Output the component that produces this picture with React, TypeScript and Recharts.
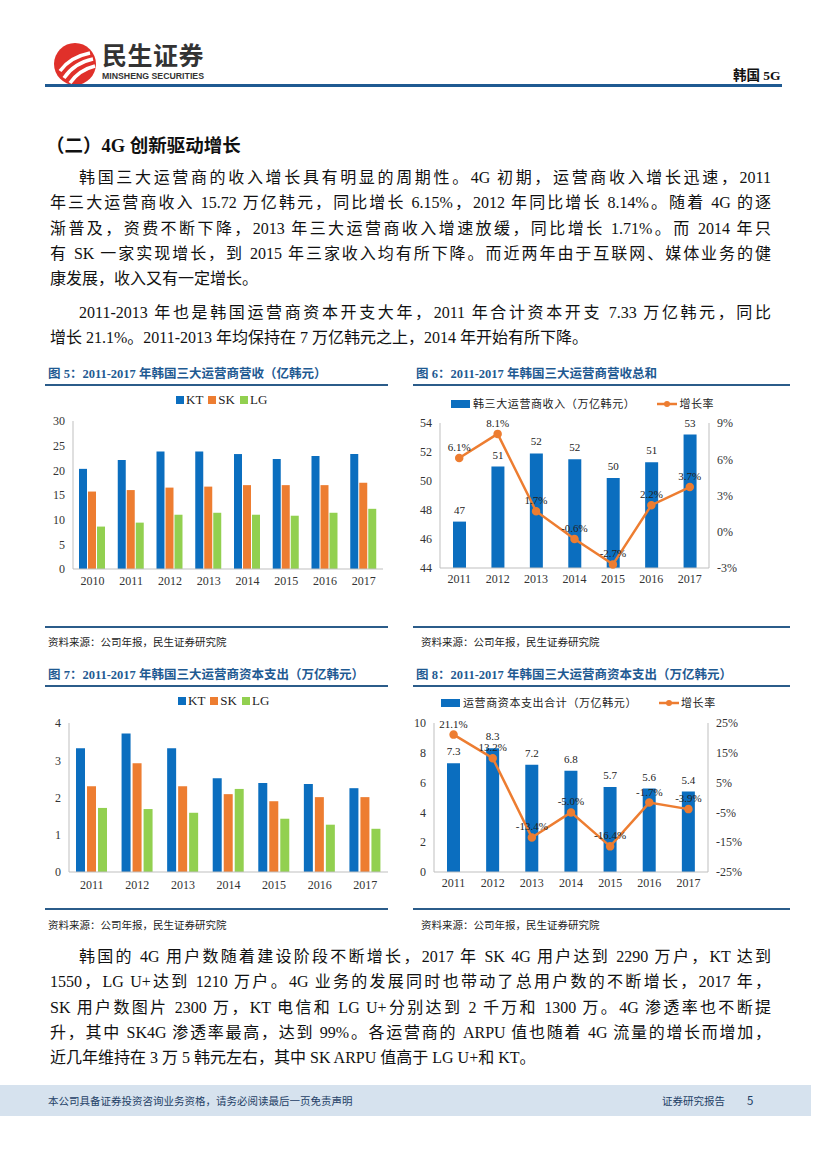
import { ComposedChart, Bar, Line, XAxis, YAxis, LabelList } from 'recharts';

// chart 5: revenue by operator
const years5 = ['2010', '2011', '2012', '2013', '2014', '2015', '2016', '2017'];
const kt5 = [20.3, 22.1, 23.8, 23.8, 23.3, 22.3, 22.9, 23.3];
const sk5 = [15.7, 16.0, 16.5, 16.7, 17.0, 17.0, 17.0, 17.5];
const lg5 = [8.6, 9.4, 11.0, 11.4, 11.0, 10.8, 11.4, 12.2];
const ticks5 = [0, 5, 10, 15, 20, 25, 30];

// chart 6: total revenue + growth
const years = ['2011', '2012', '2013', '2014', '2015', '2016', '2017'];
const revenue6 = [47.2, 51.0, 51.9, 51.5, 50.2, 51.3, 53.2];
const growth6 = [6.1, 8.1, 1.7, -0.6, -2.7, 2.2, 3.7];
const ticks6L = [44, 46, 48, 50, 52, 54];
const ticks6R = [-3, 0, 3, 6, 9];

// chart 7: capex by operator
const kt7 = [3.32, 3.72, 3.32, 2.52, 2.39, 2.36, 2.25];
const sk7 = [2.3, 2.92, 2.3, 2.09, 1.9, 2.01, 2.01];
const lg7 = [1.72, 1.69, 1.59, 2.23, 1.43, 1.27, 1.16];
const ticks7 = [0, 1, 2, 3, 4];

// chart 8: total capex + growth
const capex8 = [7.3, 8.3, 7.2, 6.8, 5.7, 5.6, 5.4];
const growth8 = [21.1, 13.2, -13.4, -5.0, -16.4, -1.7, -3.9];
const ticks8L = [0, 2, 4, 6, 8, 10];
const ticks8R = [-25, -15, -5, 5, 15, 25];

const operators = ['KT', 'SK', 'LG'];
const BLUE = '#0B6EBF';
const ORANGE = '#ED7D31';
const GREEN = '#92D050';
const opColors = [BLUE, ORANGE, GREEN];
const NAVY = '#1F5A92';

const SERIF = '"Liberation Serif", "Noto Sans CJK SC", serif';
const SANS = '"Noto Sans CJK SC", "Noto Sans", sans-serif';

const data5 = years5.map((y, i) => ({ year: y, KT: kt5[i], SK: sk5[i], LG: lg5[i] }));
const data6 = years.map((y, i) => ({ year: y, rev: revenue6[i], g: growth6[i] }));
const data7 = years.map((y, i) => ({ year: y, KT: kt7[i], SK: sk7[i], LG: lg7[i] }));
const data8 = years.map((y, i) => ({ year: y, capex: capex8[i], g: growth8[i] }));

const tickStyle = { fontSize: 12, fill: '#333', fontFamily: SERIF };
const axisLine = { stroke: '#BFBFBF' };

const para1 = [
  '韩国三大运营商的收入增长具有明显的周期性。4G 初期，运营商收入增长迅速，2011',
  '年三大运营商收入 15.72 万亿韩元，同比增长 6.15%，2012 年同比增长 8.14%。随着 4G 的逐',
  '渐普及，资费不断下降，2013 年三大运营商收入增速放缓，同比增长 1.71%。而 2014 年只',
  '有 SK 一家实现增长，到 2015 年三家收入均有所下降。而近两年由于互联网、媒体业务的健',
  '康发展，收入又有一定增长。',
];
const para2 = [
  '2011-2013 年也是韩国运营商资本开支大年，2011 年合计资本开支 7.33 万亿韩元，同比',
  '增长 21.1%。2011-2013 年均保持在 7 万亿韩元之上，2014 年开始有所下降。',
];
const para3 = [
  '韩国的 4G 用户数随着建设阶段不断增长，2017 年 SK 4G 用户达到 2290 万户，KT 达到',
  '1550，LG U+达到 1210 万户。4G 业务的发展同时也带动了总用户数的不断增长，2017 年，',
  'SK 用户数图片 2300 万，KT 电信和 LG U+分别达到 2 千万和 1300 万。4G 渗透率也不断提',
  '升，其中 SK4G 渗透率最高，达到 99%。各运营商的 ARPU 值也随着 4G 流量的增长而增加，',
  '近几年维持在 3 万 5 韩元左右，其中 SK ARPU 值高于 LG U+和 KT。',
];

function Paragraph({ lines, top }: { lines: string[]; top: number }) {
  return (
    <div style={{ position: 'absolute', left: 50, top, width: 721, fontFamily: SERIF, fontSize: 16, color: '#111' }}>
      {lines.map((l, i) => (
        <div
          key={i}
          style={{
            height: 25.3,
            lineHeight: '25.3px',
            whiteSpace: 'nowrap',
            paddingLeft: i === 0 ? 29 : 0,
            textAlign: 'justify',
            textAlignLast: i === lines.length - 1 ? 'left' : 'justify',
            overflow: 'hidden',
          }}
        >
          {l}
        </div>
      ))}
    </div>
  );
}

function FigTitle({ text, left, top, width }: { text: string; left: number; top: number; width: number }) {
  return (
    <div style={{ position: 'absolute', left, top, width }}>
      <div style={{ fontFamily: SERIF, fontWeight: 'bold', fontSize: 12.5, color: NAVY, paddingLeft: 3, lineHeight: '16px' }}>{text}</div>
      <div style={{ height: 2, background: '#2B5C8A', marginTop: 2 }} />
    </div>
  );
}

function Source({ left, top }: { left: number; top: number }) {
  return (
    <div style={{ position: 'absolute', left, top, fontFamily: SERIF, fontSize: 10.5, color: '#222' }}>
      资料来源：公司年报，民生证券研究院
    </div>
  );
}

function OpLegend({ left, top }: { left: number; top: number }) {
  return (
    <div style={{ position: 'absolute', left, top, display: 'flex', fontFamily: SERIF, fontSize: 13, color: '#222', lineHeight: '14px' }}>
      {operators.map((o, i) => (
        <div key={o} style={{ display: 'flex', alignItems: 'center', marginRight: 5 }}>
          <span style={{ width: 8, height: 8, background: opColors[i], display: 'inline-block', marginRight: 2 }} />
          {o}
        </div>
      ))}
    </div>
  );
}

function ComboLegend({ left, top, barName, gap }: { left: number; top: number; barName: string; gap: number }) {
  return (
    <div style={{ position: 'absolute', left, top, display: 'flex', alignItems: 'center', fontFamily: SERIF, fontSize: 11, color: '#222', lineHeight: '12px' }}>
      <span style={{ width: 19, height: 8, background: BLUE, display: 'inline-block', marginRight: 3 }} />
      <span style={{ letterSpacing: 0.6 }}>{barName}</span>
      <svg width={20} height={10} style={{ marginLeft: gap, marginRight: 2 }}>
        <line x1={0} y1={5} x2={20} y2={5} stroke={ORANGE} strokeWidth={2.5} />
        <circle cx={10} cy={5} r={3} fill={ORANGE} />
      </svg>
      <span style={{ letterSpacing: 0.6 }}>增长率</span>
    </div>
  );
}

const pct = (v: any) => `${v}%`;
const pct1 = (v: any) => `${Number(v).toFixed(1)}%`;
const lblStyle = { fontSize: 11, fill: '#222', fontFamily: SERIF };

function Chart5() {
  return (
    <ComposedChart width={345} height={210} data={data5} margin={{ top: 31, right: 7, bottom: 11, left: 0 }} barGap={1}>
      <XAxis dataKey="year" height={20} tick={tickStyle} axisLine={axisLine} tickLine={false} tickMargin={1} />
      <YAxis domain={[0, 30]} ticks={ticks5} width={28} tick={tickStyle} axisLine={axisLine} tickLine={false} interval={0} />
      {operators.map((o, i) => (
        <Bar key={o} dataKey={o} fill={opColors[i]} barSize={8} isAnimationActive={false} />
      ))}
    </ComposedChart>
  );
}

function Chart6() {
  return (
    <ComposedChart width={377} height={210} data={data6} margin={{ top: 33, right: 51, bottom: 12, left: 0 }}>
      <XAxis dataKey="year" height={20} tick={tickStyle} axisLine={axisLine} tickLine={false} tickMargin={0} />
      <YAxis yAxisId="l" domain={[44, 54]} ticks={ticks6L} width={27} tick={tickStyle} axisLine={axisLine} tickLine={false} interval={0} />
      <YAxis yAxisId="r" orientation="right" domain={[-3, 9]} ticks={ticks6R} width={30} tick={tickStyle} tickFormatter={pct} axisLine={axisLine} tickLine={false} interval={0} />
      <Bar yAxisId="l" dataKey="rev" fill={BLUE} barSize={13} isAnimationActive={false}>
        <LabelList dataKey="rev" position="top" offset={8} formatter={(v: any) => Math.round(Number(v))} style={lblStyle} />
      </Bar>
      <Line yAxisId="r" dataKey="g" stroke={ORANGE} strokeWidth={2.5} dot={{ r: 3, fill: ORANGE, stroke: ORANGE }} isAnimationActive={false}>
        <LabelList dataKey="g" position="top" offset={7} formatter={pct1} style={lblStyle} />
      </Line>
    </ComposedChart>
  );
}

function Chart7() {
  return (
    <ComposedChart width={345} height={210} data={data7} margin={{ top: 33, right: 2, bottom: 8, left: 0 }} barGap={2}>
      <XAxis dataKey="year" height={20} tick={tickStyle} axisLine={axisLine} tickLine={false} tickMargin={2} />
      <YAxis domain={[0, 4]} ticks={ticks7} width={24} tick={tickStyle} axisLine={axisLine} tickLine={false} interval={0} />
      {operators.map((o, i) => (
        <Bar key={o} dataKey={o} fill={opColors[i]} barSize={9} isAnimationActive={false} />
      ))}
    </ComposedChart>
  );
}

function Chart8() {
  return (
    <ComposedChart width={377} height={210} data={data8} margin={{ top: 33, right: 50, bottom: 8, left: 0 }}>
      <XAxis dataKey="year" height={20} tick={tickStyle} axisLine={axisLine} tickLine={false} tickMargin={0} />
      <YAxis yAxisId="l" domain={[0, 10]} ticks={ticks8L} width={21} tick={tickStyle} axisLine={axisLine} tickLine={false} interval={0} />
      <YAxis yAxisId="r" orientation="right" domain={[-25, 25]} ticks={ticks8R} width={32} tick={tickStyle} tickFormatter={pct} axisLine={axisLine} tickLine={false} interval={0} />
      <Bar yAxisId="l" dataKey="capex" fill={BLUE} barSize={13} isAnimationActive={false}>
        <LabelList dataKey="capex" position="top" offset={8} formatter={(v: any) => Number(v).toFixed(1)} style={lblStyle} />
      </Bar>
      <Line yAxisId="r" dataKey="g" stroke={ORANGE} strokeWidth={2.5} dot={{ r: 3, fill: ORANGE, stroke: ORANGE }} isAnimationActive={false}>
        <LabelList dataKey="g" position="top" offset={7} formatter={pct1} style={lblStyle} />
      </Line>
    </ComposedChart>
  );
}

function Logo() {
  return (
    <div style={{ position: 'absolute', left: 52, top: 38 }}>
      <svg width={48} height={48} style={{ position: 'absolute', left: 0, top: 3 }}>
        <circle cx={23} cy={23} r={21} fill="#E0302A" />
        <path d="M8 30 Q18 16 38 12" stroke="#fff" strokeWidth={3.5} fill="none" />
        <path d="M12 37 Q22 22 41 18" stroke="#fff" strokeWidth={3.5} fill="none" />
        <path d="M18 42 Q27 29 43 25" stroke="#fff" strokeWidth={3.5} fill="none" />
      </svg>
      <div style={{ position: 'absolute', left: 50, top: 0, fontFamily: SANS, fontWeight: 'bold', fontSize: 25, color: '#333', whiteSpace: 'nowrap', lineHeight: '32px', letterSpacing: 0.5 }}>
        民生证券
      </div>
      <div style={{ position: 'absolute', left: 50, top: 32, fontFamily: '"Liberation Sans", Arial, sans-serif', fontWeight: 'bold', fontSize: 9.5, color: '#333', whiteSpace: 'nowrap', transform: 'scaleX(0.92)', transformOrigin: 'left' }}>
        MINSHENG SECURITIES
      </div>
    </div>
  );
}

export default function App() {
  return (
    <div style={{ position: 'absolute', left: 0, top: 0, width: 827, height: 1169, background: '#fff', overflow: 'hidden' }}>
      <Logo />
      <div style={{ position: 'absolute', left: 733, top: 64, fontFamily: SERIF, fontWeight: 'bold', fontSize: 13.5, color: '#111' }}>韩国 5G</div>
      <div style={{ position: 'absolute', left: 45, top: 84, width: 737, height: 3, background: NAVY }} />

      <div style={{ position: 'absolute', left: 46, top: 131, fontFamily: SERIF, fontWeight: 'bold', fontSize: 18.5, color: '#111' }}>（二）4G 创新驱动增长</div>
      <Paragraph lines={para1} top={165} />
      <Paragraph lines={para2} top={300} />

      <FigTitle text="图 5：2011-2017 年韩国三大运营商营收（亿韩元）" left={45} top={366} width={343} />
      <FigTitle text="图 6：2011-2017 年韩国三大运营商营收总和" left={413} top={366} width={377} />
      <OpLegend left={176} top={393} />
      <ComboLegend left={451} top={398} barName="韩三大运营商收入（万亿韩元）" gap={22} />
      <div style={{ position: 'absolute', left: 45, top: 390 }}><Chart5 /></div>
      <div style={{ position: 'absolute', left: 413, top: 390 }}><Chart6 /></div>
      <div style={{ position: 'absolute', left: 45, top: 626, width: 343, height: 2, background: '#2B5C8A' }} />
      <div style={{ position: 'absolute', left: 413, top: 626, width: 377, height: 2, background: '#2B5C8A' }} />
      <Source left={48} top={634} />
      <Source left={421} top={634} />

      <FigTitle text="图 7：2011-2017 年韩国三大运营商资本支出（万亿韩元）" left={45} top={667} width={343} />
      <FigTitle text="图 8：2011-2017 年韩国三大运营商资本支出（万亿韩元）" left={413} top={667} width={377} />
      <OpLegend left={178} top={694} />
      <ComboLegend left={441} top={697} barName="运营商资本支出合计（万亿韩元）" gap={22} />
      <div style={{ position: 'absolute', left: 45, top: 690 }}><Chart7 /></div>
      <div style={{ position: 'absolute', left: 413, top: 690 }}><Chart8 /></div>
      <div style={{ position: 'absolute', left: 45, top: 908, width: 343, height: 2, background: '#2B5C8A' }} />
      <div style={{ position: 'absolute', left: 413, top: 908, width: 377, height: 2, background: '#2B5C8A' }} />
      <Source left={48} top={917} />
      <Source left={421} top={917} />

      <Paragraph lines={para3} top={944} />

      <div style={{ position: 'absolute', left: 0, top: 1085, width: 811, height: 31, background: '#D6E2EE' }}>
        <div style={{ position: 'absolute', left: 48, top: 8, fontFamily: SANS, fontSize: 10.5, color: '#1E3F66' }}>本公司具备证券投资咨询业务资格，请务必阅读最后一页免责声明</div>
        <div style={{ position: 'absolute', left: 662, top: 8, fontFamily: SANS, fontSize: 10.5, color: '#1E3F66' }}>证券研究报告</div>
        <div style={{ position: 'absolute', left: 747, top: 7, fontFamily: SANS, fontSize: 11.5, color: '#1E3F66' }}>5</div>
      </div>
    </div>
  );
}
